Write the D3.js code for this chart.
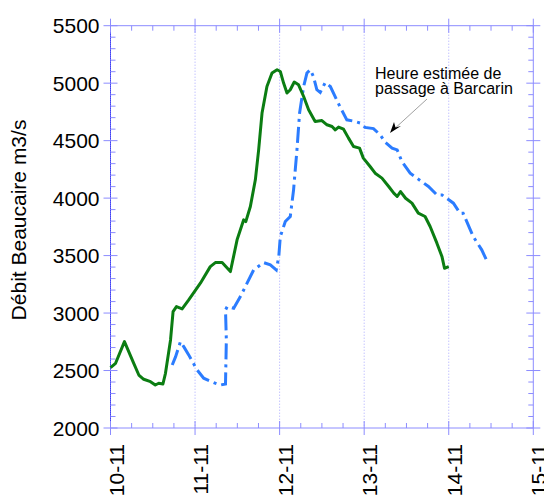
<!DOCTYPE html>
<html>
<head>
<meta charset="utf-8">
<script src="https://cdn.jsdelivr.net/npm/d3@7"></script>
<style>
  html, body { margin: 0; padding: 0; background: #fff; }
  svg { display: block; font-family: "Liberation Sans", Arial, Helvetica, sans-serif; }
</style>
</head>
<body>
<svg id="chart" width="544" height="495"></svg>
<script>
// Jour (0 = 10-11 00:00) et débit mesuré à Beaucaire (m3/s)
const beaucaireDays = [0, 0.06, 0.165, 0.275, 0.335, 0.393, 0.473, 0.53, 0.57, 0.62, 0.65, 0.71, 0.74, 0.78, 0.847, 0.925, 1.063, 1.18, 1.24, 1.32, 1.418, 1.497, 1.575, 1.60, 1.654, 1.713, 1.752, 1.792, 1.85, 1.91, 1.97, 2.008, 2.047, 2.087, 2.126, 2.173, 2.224, 2.284, 2.343, 2.42, 2.5, 2.56, 2.62, 2.658, 2.697, 2.756, 2.815, 2.874, 2.945, 2.99, 3.07, 3.13, 3.21, 3.29, 3.35, 3.39, 3.43, 3.49, 3.565, 3.64, 3.72, 3.78, 3.86, 3.92, 3.95, 4.0];
const beaucaireFlow = [2525, 2563, 2751, 2563, 2461, 2424, 2403, 2374, 2389, 2383, 2476, 2766, 3012, 3056, 3036, 3114, 3260, 3404, 3439, 3439, 3361, 3637, 3811, 3796, 3927, 4159, 4420, 4740, 4971, 5088, 5117, 5102, 5001, 4914, 4943, 5010, 4986, 4884, 4768, 4667, 4675, 4638, 4623, 4594, 4618, 4600, 4522, 4449, 4435, 4348, 4275, 4217, 4174, 4101, 4043, 4014, 4057, 3999, 3956, 3869, 3840, 3753, 3608, 3491, 3390, 3404];

// Heure estimée de passage à Barcarin (même débit, décalé dans le temps)
const barcarinDays = [0.73, 0.77, 0.827, 0.866, 0.925, 1.024, 1.102, 1.22, 1.3, 1.36, 1.37, 1.36, 1.38, 1.457, 1.536, 1.615, 1.693, 1.81, 1.89, 1.96, 1.99, 2.008, 2.067, 2.126, 2.165, 2.205, 2.236, 2.284, 2.323, 2.363, 2.40, 2.44, 2.48, 2.54, 2.6, 2.658, 2.717, 2.795, 2.874, 2.953, 3.01, 3.11, 3.19, 3.25, 3.33, 3.39, 3.445, 3.544, 3.64, 3.76, 3.86, 3.92, 4.055, 4.134, 4.17, 4.29, 4.39, 4.455];
const barcarinFlow = [2548, 2621, 2751, 2708, 2636, 2505, 2433, 2395, 2374, 2383, 2766, 3027, 3056, 3042, 3143, 3260, 3375, 3439, 3419, 3375, 3491, 3665, 3796, 3840, 4072, 4420, 4740, 4971, 5088, 5117, 5058, 4943, 4920, 5006, 4971, 4880, 4790, 4681, 4670, 4653, 4615, 4605, 4550, 4485, 4435, 4420, 4319, 4217, 4165, 4101, 4028, 4028, 3956, 3869, 3869, 3665, 3550, 3448];

const xTickDays = [0, 1, 2, 3, 4, 5];
const xTickLabels = ["10-11", "11-11", "12-11", "13-11", "14-11", "15-11"];
const yTicks = [2000, 2500, 3000, 3500, 4000, 4500, 5000, 5500];

const svg = d3.select("#chart");
const margin = { top: 25.7, right: 10.7, bottom: 67, left: 110.5 };
const W = 544, H = 495;
const x = d3.scaleLinear().domain([0, 5]).range([margin.left, W - margin.right]);
const y = d3.scaleLinear().domain([2000, 5500]).range([H - margin.bottom, margin.top]);

const axisColor = "#8c8cff";
const x0 = x.range()[0], x1 = x.range()[1];
const y0 = y.range()[0], y1 = y.range()[1];

// Grille verticale pointillée (jours)
svg.append("g").selectAll("line").data(xTickDays.slice(1, -1)).join("line")
  .attr("x1", d => x(d)).attr("x2", d => x(d))
  .attr("y1", y1).attr("y2", y0)
  .attr("stroke", "#a8a8ff").attr("stroke-width", 1)
  .attr("stroke-dasharray", "1,2");

// Cadre
const frame = svg.append("g").attr("stroke", axisColor).attr("stroke-width", 1).attr("fill", "none");
frame.append("line").attr("x1", x0).attr("x2", x1).attr("y1", y0).attr("y2", y0);
frame.append("line").attr("x1", x0).attr("x2", x1).attr("y1", y1).attr("y2", y1);
frame.append("line").attr("x1", x1).attr("x2", x1).attr("y1", y1).attr("y2", y0);
frame.append("line").attr("x1", x0).attr("x2", x0).attr("y1", y1).attr("y2", y0);
svg.append("line").attr("x1", x0).attr("x2", x0).attr("y1", y1).attr("y2", y0)
  .attr("stroke", "#2020ee").attr("stroke-width", 1).attr("stroke-dasharray", "1,1");

// Graduations mineures
const xMinor = d3.range(0, 5.001, 0.25).filter(d => Math.abs(d - Math.round(d)) > 1e-6);
const yMinor = d3.range(2000, 5501, 100).filter(d => d % 500 !== 0);
const ticks = svg.append("g").attr("stroke", axisColor).attr("stroke-width", 1);
xMinor.forEach(d => {
  ticks.append("line").attr("x1", x(d)).attr("x2", x(d)).attr("y1", y0).attr("y2", y0 - 5);
  ticks.append("line").attr("x1", x(d)).attr("x2", x(d)).attr("y1", y1).attr("y2", y1 + 5);
});
yMinor.forEach(d => {
  ticks.append("line").attr("x1", x0).attr("x2", x0 + 5).attr("y1", y(d)).attr("y2", y(d));
  ticks.append("line").attr("x1", x1).attr("x2", x1 - 5).attr("y1", y(d)).attr("y2", y(d));
});
// Graduations majeures (de part et d'autre du cadre)
xTickDays.forEach(d => {
  ticks.append("line").attr("x1", x(d)).attr("x2", x(d)).attr("y1", y0 - 7).attr("y2", y0 + 7);
  ticks.append("line").attr("x1", x(d)).attr("x2", x(d)).attr("y1", y1 - 7).attr("y2", y1 + 7);
});
yTicks.forEach(d => {
  ticks.append("line").attr("x1", x0 - 7).attr("x2", x0 + 7).attr("y1", y(d)).attr("y2", y(d));
  ticks.append("line").attr("x1", x1 - 7).attr("x2", x1 + 7).attr("y1", y(d)).attr("y2", y(d));
});

// Libellés de l'axe Y
svg.append("g").selectAll("text").data(yTicks).join("text")
  .attr("x", x0 - 11).attr("y", d => y(d)).attr("dy", "0.36em")
  .attr("text-anchor", "end").attr("font-size", 21).attr("fill", "#000")
  .text(d => d);

// Libellés de l'axe X (verticaux)
svg.append("g").selectAll("text").data(xTickDays).join("text")
  .attr("transform", d => `translate(${x(d)},${y0 + 16}) rotate(-90)`)
  .attr("text-anchor", "end").attr("dy", "0.62em")
  .attr("font-size", 21).attr("fill", "#000")
  .text((d, i) => xTickLabels[i]);

// Titre de l'axe Y
svg.append("text")
  .attr("transform", `translate(26,220) rotate(-90)`)
  .attr("text-anchor", "middle").attr("font-size", 21).attr("fill", "#000")
  .text("Débit Beaucaire m3/s");

// Courbes
const line = d3.line().x(d => x(d[0])).y(d => y(d[1])).curve(d3.curveLinear);
svg.append("path")
  .datum(d3.zip(barcarinDays, barcarinFlow))
  .attr("d", line).attr("fill", "none")
  .attr("stroke", "#2b7cff").attr("stroke-width", 3)
  .attr("stroke-dasharray", "16,5,3,5");
svg.append("path")
  .datum(d3.zip(beaucaireDays, beaucaireFlow))
  .attr("d", line).attr("fill", "none")
  .attr("stroke", "#0b7d12").attr("stroke-width", 3)
  .attr("stroke-linejoin", "round");

// Annotation
const note = svg.append("text").attr("font-size", 16).attr("fill", "#000");
note.append("tspan").attr("x", 375).attr("y", 78.5).text("Heure estimée de");
note.append("tspan").attr("x", 375).attr("y", 94).text("passage à Barcarin");
svg.append("line")
  .attr("x1", 427).attr("y1", 99).attr("x2", 392).attr("y2", 131)
  .attr("stroke", "#888").attr("stroke-width", 0.8);
svg.append("path")
  .attr("d", "M390,133 L394,122 L395.5,127.5 L401,126 Z")
  .attr("fill", "#000");
</script>
</body>
</html>
